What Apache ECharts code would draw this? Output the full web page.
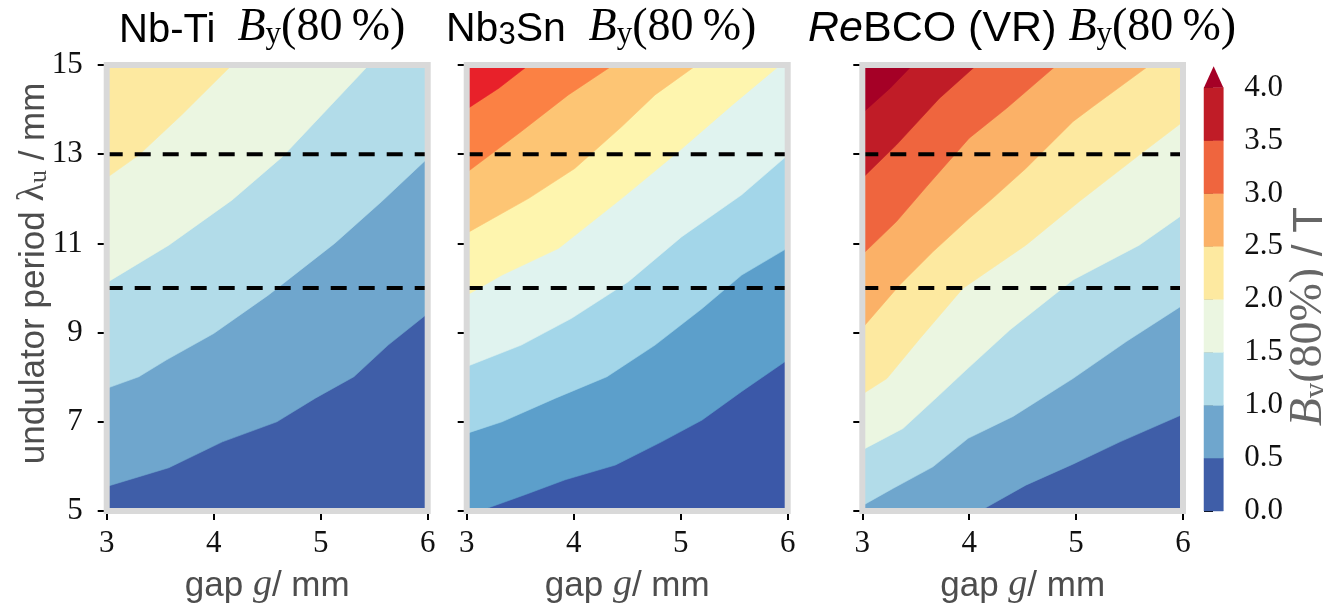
<!DOCTYPE html>
<html><head><meta charset="utf-8">
<script src="https://cdn.jsdelivr.net/npm/echarts@6/dist/echarts.min.js"></script>
<style>html,body{margin:0;padding:0;background:#fff}#c{width:1323px;height:604px}</style>
</head><body><div id="c"></div>
<script>
// ---------- data ----------
const gapTicks = [3, 4, 5, 6];
const periodTicks = [5, 7, 9, 11, 13, 15];
const markedPeriods = [13, 10];
const cbLevels = [0, 0.5, 1, 1.5, 2, 2.5, 3, 3.5, 4];
const cbColors = ['#3f5ea8', '#6fa6cd', '#b2dce9', '#ebf6e1', '#fde9a0', '#fbb167', '#ef653e', '#c01c27'];
const cbOverColor = '#a50026';
const nbtiColors = ['#3f5ea8', '#6fa6cd', '#b2dce9', '#ebf6e1', '#fde9a0'];
const nb3snColors = ['#3b58a8', '#5c9fcb', '#a3d6e9', '#e0f3ef', '#fef5ae', '#fdc574', '#fb8144', '#e8212a'];
const rebcoColors = ['#3f5ea8', '#6fa6cd', '#b2dce9', '#ebf6e1', '#fde9a0', '#fbb167', '#ef653e', '#c01c27', '#a50026'];

// contour lines [gap, period], from the left/bottom edge to the top/right edge
const nbtiLines = [
  [[3,5.55],[3.58,5.97],[4.08,6.55],[4.59,7.0],[4.95,7.53],[5.31,8.01],[5.63,8.72],[6,9.43]],
  [[3,7.75],[3.30,8.01],[3.56,8.39],[4.0,8.98],[4.51,9.84],[5.13,11.0],[5.57,11.94],[6,12.91]],
  [[3,10.12],[3.58,10.96],[4.17,11.97],[4.64,12.94],[5.01,13.88],[5.45,15]],
  [[3,12.47],[3.30,12.98],[3.70,13.88],[4.17,15]]
];
const nb3snLines = [
  [[3.12,5],[3.55,5.37],[3.92,5.70],[4.39,6.03],[4.82,6.55],[5.20,7.04],[5.57,7.68],[6,8.39]],
  [[3,6.74],[3.33,7.0],[3.83,7.53],[4.31,8.01],[4.76,8.72],[5.20,9.54],[5.57,10.29],[6,10.90]],
  [[3,8.24],[3.51,8.72],[3.98,9.32],[4.51,10.14],[5.01,11.15],[5.57,12.09],[6,12.98]],
  [[3,9.84],[3.33,10.29],[3.86,10.89],[4.45,12.01],[4.98,13.06],[5.48,14.10],[5.93,15]],
  [[3,11.23],[3.58,12.01],[4.01,12.68],[4.45,13.62],[4.76,14.33],[5.15,15]],
  [[3,12.59],[3.51,13.51],[3.95,14.33],[4.37,15]],
  [[3,14.01],[3.30,14.48],[3.58,15]]
];
const rebcoLines = [
  [[4.10,5],[4.53,5.58],[4.97,6.05],[5.41,6.55],[6,7.17]],
  [[3,5.12],[3.29,5.51],[3.66,5.99],[3.99,6.63],[4.41,7.12],[4.97,7.97],[5.47,8.80],[6,9.62]],
  [[3,6.37],[3.38,6.85],[3.72,7.60],[3.97,8.16],[4.38,9.06],[4.97,10.18],[5.59,10.96],[6,11.65]],
  [[3,7.62],[3.23,7.97],[3.54,8.87],[3.94,9.99],[4.53,10.96],[5.03,11.94],[5.59,12.98],[6,13.73]],
  [[3,9.10],[3.35,10.07],[3.66,10.81],[4.0,11.56],[4.22,12.01],[4.53,12.68],[4.97,13.73],[5.16,14.07],[5.69,15]],
  [[3,10.75],[3.32,11.49],[3.60,12.27],[4.0,13.36],[4.35,14.03],[4.82,15]],
  [[3,12.46],[3.32,13.21],[3.72,14.25],[4.07,15]],
  [[3,13.92],[3.26,14.48],[3.47,15]]
];

// ---------- helpers ----------
const SANS = '"Liberation Sans", Arial, sans-serif';
const SERIF = '"Liberation Serif", "Times New Roman", serif';
const G0 = gapTicks[0], G1 = gapTicks[gapTicks.length - 1];
const L0 = periodTicks[0], L1 = periodTicks[periodTicks.length - 1];

function regionAbove(line) {
  const pts = line.slice();
  const start = pts[0], end = pts[pts.length - 1];
  if (end[0] >= G1 && end[1] < L1) pts.push([G1, L1]);
  pts.push([G0, L1]);
  if (start[1] <= L0 && start[0] > G0) pts.push([G0, L0]);
  return pts;
}

function makeRich(fsS, fsM, fsSub, color, D, drop) {
  const lh = fs => 2 * (D + 0.3 * fs);
  const base = { color, fontWeight: 'normal', verticalAlign: 'bottom' };
  return {
    s: Object.assign({ fontFamily: SANS, fontSize: fsS, lineHeight: lh(fsS) }, base),
    si: Object.assign({ fontFamily: SANS, fontStyle: 'italic', fontSize: fsS, lineHeight: lh(fsS) }, base),
    ssub: Object.assign({ fontFamily: SANS, fontSize: fsSub, lineHeight: 2 * (D - drop + 0.3 * fsSub) }, base),
    mi: Object.assign({ fontFamily: SERIF, fontStyle: 'italic', fontSize: fsM, lineHeight: lh(fsM) }, base),
    mr: Object.assign({ fontFamily: SERIF, fontSize: fsM, lineHeight: lh(fsM) }, base),
    sub: Object.assign({ fontFamily: SERIF, fontSize: fsSub, lineHeight: 2 * (D - drop + 0.3 * fsSub) }, base)
  };
}

const panels = [
  { lines: nbtiLines, colors: nbtiColors, left: 106.7, width: 321,
    title: '{s|Nb-Ti  }{mi|B}{sub|y}{mr|(80\u2009%)}', titleLeft: 119, titleSans: 40 },
  { lines: nb3snLines, colors: nb3snColors, left: 466.7, width: 321,
    title: '{s|Nb}{ssub|3}{s|Sn  }{mi|B}{sub|y}{mr|(80\u2009%)}', titleLeft: 446, titleSans: 41 },
  { lines: rebcoLines, colors: rebcoColors, left: 862.3, width: 320.7,
    title: '{si|Re}{s|BCO (VR) }{mi|B}{sub|y}{mr|(80\u2009%)}', titleLeft: 808, titleSans: 43 }
];
const TOP = 65, HEIGHT = 446;
const axisNameColor = '#4d4d4d';
const tickColor = '#111';

const grid = [], xAxis = [], yAxis = [], series = [], title = [];
panels.forEach((p, i) => {
  grid.push({ left: p.left, top: TOP, width: p.width, height: HEIGHT, outerBoundsMode: 'none', containLabel: false });
  title.push({ left: p.titleLeft, top: -5, padding: 0, text: p.title,
    textStyle: { fontWeight: 'normal', rich: makeRich(p.titleSans, 46, 31, '#000', 14, 8) } });
  xAxis.push({
    type: 'value', gridIndex: i, min: G0, max: G1,
    axisLine: { show: false }, splitLine: { show: false },
    axisTick: { show: true, inside: false, length: 9, lineStyle: { color: '#000', width: 2 }, customValues: gapTicks },
    axisLabel: { customValues: gapTicks, margin: 17, fontFamily: SERIF, fontSize: 31, color: tickColor },
    name: '{s|gap }{mi|g}{s|/ mm}', nameLocation: 'middle', nameGap: 42, nameMoveOverlap: false,
    nameTextStyle: { rich: makeRich(35, 38, 26, axisNameColor, 14, 8) }
  });
  yAxis.push({
    type: 'value', gridIndex: i, min: L0, max: L1,
    axisLine: { show: false }, splitLine: { show: false },
    axisTick: { show: true, inside: false, length: 9, lineStyle: { color: '#000', width: 2 }, customValues: periodTicks },
    axisLabel: { show: i === 0, customValues: periodTicks, margin: 24, fontFamily: SERIF, fontSize: 31, color: tickColor },
    name: i === 0 ? '{s|   undulator period }{mr|\u03bb}{sub|u}{s| / mm}' : '',
    nameLocation: 'middle', nameRotate: 90, nameGap: 55, nameMoveOverlap: false,
    nameTextStyle: { rich: makeRich(35, 38, 26, axisNameColor, 14, 8) }
  });
  // filled contour bands
  series.push({
    type: 'custom', xAxisIndex: i, yAxisIndex: i, z: 2, silent: true,
    data: p.colors.map((c, k) => [G0, L0, k]),
    renderItem(params, api) {
      const k = params.dataIndex;
      const poly = k === 0 ? [[G0, L0], [G1, L0], [G1, L1], [G0, L1]] : regionAbove(p.lines[k - 1]);
      return { type: 'polygon', shape: { points: poly.map(q => api.coord(q)) },
        style: { fill: p.colors[k], stroke: p.colors[k], lineWidth: 0.6 } };
    }
  });
  // dashed reference periods
  markedPeriods.forEach(v => {
    series.push({
      type: 'line', xAxisIndex: i, yAxisIndex: i, z: 5, silent: true, symbol: 'none',
      data: [[G0, v], [G1, v]],
      lineStyle: { color: '#000', width: 4, type: [16, 12] }
    });
  });
  // grey frame
  series.push({
    type: 'custom', xAxisIndex: i, yAxisIndex: i, z: 10, silent: true, clip: false,
    data: [[G0, L0]],
    renderItem(params, api) {
      const a = api.coord([G0, L1]), b = api.coord([G1, L0]);
      return { type: 'rect', shape: { x: a[0], y: a[1], width: b[0] - a[0], height: b[1] - a[1] },
        style: { fill: 'none', stroke: '#d9d9d9', lineWidth: 6 } };
    }
  });
});

// colorbar
const cbIdx = 3;
const cbMin = cbLevels[0], cbMax = cbLevels[cbLevels.length - 1];
grid.push({ left: 1204, top: 87.5, width: 19.3, height: 423.5, outerBoundsMode: 'none', containLabel: false });
xAxis.push({ type: 'value', gridIndex: cbIdx, min: 0, max: 1, show: false });
yAxis.push({
  type: 'value', gridIndex: cbIdx, min: cbMin, max: cbMax, interval: 0.5, position: 'right',
  axisLine: { show: false }, splitLine: { show: false },
  axisTick: { show: true, inside: false, length: 9, lineStyle: { color: '#000', width: 2 } },
  axisLabel: { margin: 21, fontFamily: SERIF, fontSize: 31, color: tickColor, formatter: v => v.toFixed(1) },
  name: '{mi|B}{sub|y}{mr|(80%)}{s| / T   }', nameLocation: 'middle', nameRotate: 90, nameGap: 53, nameMoveOverlap: false,
  nameTextStyle: { rich: makeRich(42, 46, 31, '#666', 14, 8) }
});
series.push({
  type: 'custom', xAxisIndex: cbIdx, yAxisIndex: cbIdx, z: 2, silent: true, clip: false,
  data: cbColors.map((c, k) => [0, cbLevels[k]]).concat([[0, cbMax]]),
  renderItem(params, api) {
    const k = params.dataIndex;
    if (k < cbColors.length) {
      const a = api.coord([0, cbLevels[k + 1]]), b = api.coord([1, cbLevels[k]]);
      return { type: 'rect', shape: { x: a[0], y: a[1], width: b[0] - a[0], height: b[1] - a[1] },
        style: { fill: cbColors[k], stroke: cbColors[k], lineWidth: 0.5 } };
    }
    const ext = 0.05 * (cbMax - cbMin);
    return { type: 'polygon', shape: { points: [api.coord([0, cbMax]), api.coord([1, cbMax]), api.coord([0.5, cbMax + ext])] },
      style: { fill: cbOverColor } };
  }
});

const chart = echarts.init(document.getElementById('c'), null, { renderer: 'canvas' });
chart.setOption({ animation: false, backgroundColor: '#fff', title, grid, xAxis, yAxis, series });
</script>
</body></html>
